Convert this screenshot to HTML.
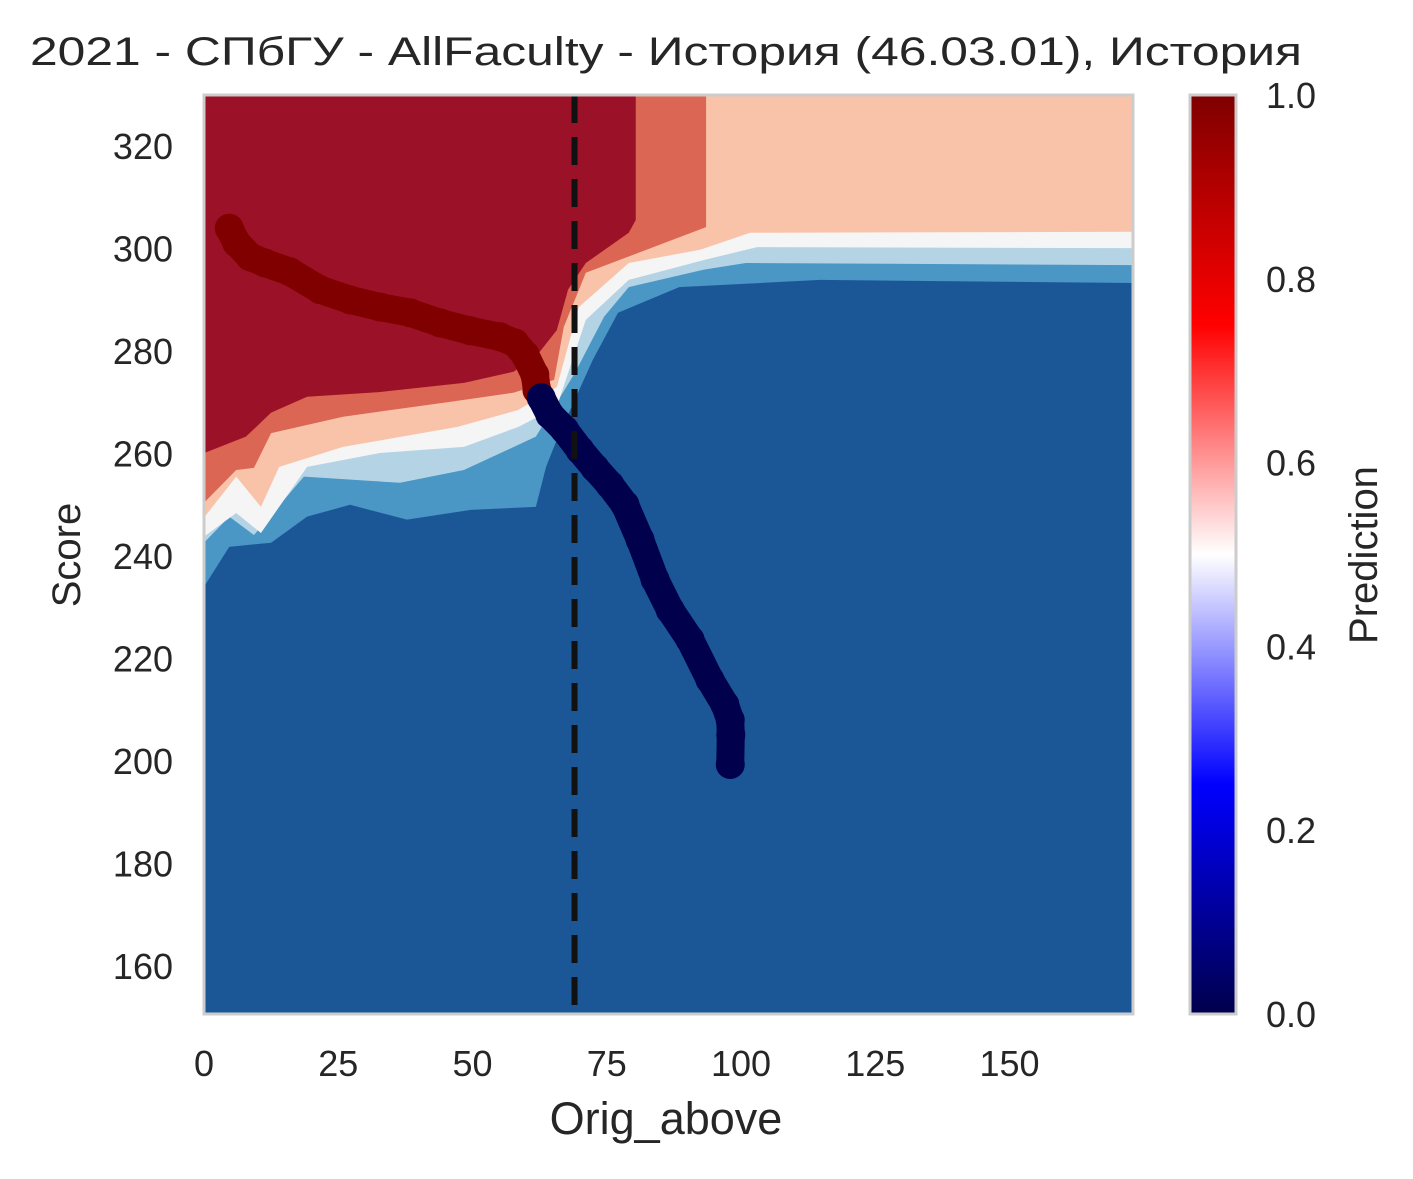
<!DOCTYPE html>
<html><head><meta charset="utf-8"><style>
body{margin:0;background:#fff;}
svg text{font-family:"Liberation Sans",sans-serif;fill:#262626;}
</style></head><body>
<svg id="c" width="1413" height="1174" xmlns="http://www.w3.org/2000/svg">
<defs><linearGradient id="cm" x1="0" y1="1" x2="0" y2="0">
<stop offset="0" stop-color="#00004c"/><stop offset="0.25" stop-color="#0000ff"/><stop offset="0.5" stop-color="#ffffff"/><stop offset="0.75" stop-color="#ff0000"/><stop offset="1" stop-color="#7f0000"/></linearGradient>
<clipPath id="pc"><rect x="204" y="95" width="929" height="919"/></clipPath></defs>
<text x="666" y="65" font-size="40" text-anchor="middle" textLength="1272" lengthAdjust="spacingAndGlyphs">2021 - СПбГУ - AllFaculty - История (46.03.01), История</text>
<g id="plot" clip-path="url(#pc)"></g>
<rect x="204" y="95" width="929" height="919" fill="none" stroke="#cccccc" stroke-width="3"/>
<g id="ax"></g>
<text x="666" y="1134" font-size="45" text-anchor="middle">Orig_above</text>
<text transform="translate(80,555) rotate(-90)" font-size="40" text-anchor="middle">Score</text>
<rect x="1190" y="95" width="46" height="919" fill="url(#cm)" stroke="#cccccc" stroke-width="3"/>
<text transform="translate(1377,555) rotate(-90)" font-size="40" text-anchor="middle">Prediction</text>
</svg>
<script>
const xTicks=[0,25,50,75,100,125,150];
const yTicks=[160,180,200,220,240,260,280,300,320];
const cbTicks=["0.0","0.2","0.4","0.6","0.8","1.0"];
const cutoff=69;
// contour band lower boundaries [x, y]
const bandF=[[0,234],[4.7,241.8],[12.5,242.6],[19.2,247.7],[27.2,250],[37.8,247.1],[49.7,249],[61.8,249.6],[63.7,257.4],[65.7,262.7],[72.4,278.3],[77.1,287.5],[88.5,292.5],[114.7,293.9],[173,293.3]];
const bandE=[[0,242.6],[4.7,247.7],[9.3,244.1],[18.6,255.5],[36.5,254.3],[48.4,256.8],[61.8,263.3],[69.1,275.8],[74.5,286.7],[79.1,292.5],[93.1,295.9],[100.9,297.2],[173,296.8]];
const bandD=[[0,243.8],[6,248.4],[10.6,244.5],[19.2,257.4],[32.6,260.1],[48.4,261.3],[58.5,265.2],[65.7,269.1],[71.1,286.1],[79.1,293.9],[93.1,297.8],[103,300.3],[173,300.1]];
const bandC=[[0,247.5],[6,255.5],[10.6,249.6],[14,257.4],[25.9,261.3],[47.1,265.2],[58.5,268.5],[65.7,273],[69.8,288.6],[79.1,297.2],[92.4,299.8],[101.7,303.1],[173,303.3]];
const bandB=[[0,250.4],[6,256.8],[9.3,257.2],[12.5,264],[25.9,267.2],[45.8,270.1],[57.7,271.9],[65.2,274.4],[67,284.7],[71.1,295.3],[85.7,301.1],[93.5,304.2]];
const bandA=[[0,260.1],[7.8,263.3],[12.5,268],[19.2,271.1],[32.6,272],[48.4,273.8],[57.7,276],[62.4,279.7],[65.7,284.1],[67.8,292],[71.1,297.2],[79.1,303.1],[80.4,305.6]];
const bands=[[bandF,"#4a96c5","band-mid-blue"],[bandE,"#b4d4e6","band-light-blue"],[bandD,"#f5f5f5","band-white"],[bandC,"#f9c3a9","band-salmon"],[bandB,"#db6653","band-orange"],[bandA,"#9b1127","band-dark-red"]];
const redX=[4.7,6.1,8.6,11.4,16,21.6,27.2,32.8,38.4,44,49.5,55.1,57.9,59.8,61.6,62];
const redY=[304,301.1,298.4,297.2,295.5,292,290,288.6,287.5,285.5,284,282.8,281.6,279.3,275.4,272.4];
const blueX=[62.8,64.4,67.2,70,72.8,75.6,78.4,81.2,84,86.8,90.5,94.2,97,98,98.1,98];
const blueY=[270.9,267.6,264.6,260.7,257.2,253.9,250,243.2,235.4,229.5,223.7,215.9,211,208,205.1,199.3];
const X0=204,X1=1133,Y0=1014,Y1=95,xmin=0,xmax=173,ymin=150.6,ymax=330;
const sx=v=>X0+(v-xmin)/(xmax-xmin)*(X1-X0);
const sy=v=>Y0-(v-ymin)/(ymax-ymin)*(Y0-Y1);
const NS="http://www.w3.org/2000/svg";
const plot=document.getElementById('plot'),ax=document.getElementById('ax');
function mk(t,p,a){const e=document.createElementNS(NS,t);for(const k in a)e.setAttribute(k,a[k]);p.appendChild(e);return e;}
const bg=mk('rect',plot,{x:X0,y:Y1,width:X1-X0,height:Y0-Y1,fill:'#1b5797'});


bands.forEach(b=>{const pts=b[0].map(p=>sx(p[0])+','+sy(p[1]));const last=b[0][b[0].length-1];
pts.push(sx(last[0])+','+sy(ymax),sx(0)+','+sy(ymax));
const e=mk('polygon',plot,{points:pts.join(' '),fill:b[1]});

});
function series(xs,ys,col,name){
const pl=mk('polyline',plot,{points:xs.map((v,i)=>sx(v)+','+sy(ys[i])).join(' '),fill:'none',stroke:col,'stroke-width':28,'stroke-linecap':'round','stroke-linejoin':'round'});


xs.forEach((v,i)=>{const c=mk('circle',plot,{cx:sx(v),cy:sy(ys[i]),r:14.5,fill:col});

});}
series(redX,redY,'#800000','admitted');
series(blueX,blueY,'#00004c','rejected');
const dl=mk('line',plot,{x1:sx(cutoff),x2:sx(cutoff),y1:Y1,y2:Y0,stroke:'#111','stroke-width':6,'stroke-dasharray':'28,14'});


xTicks.forEach(v=>{const t=mk('text',ax,{x:sx(v),y:1076,'font-size':36,'text-anchor':'middle'});t.textContent=v;

});
yTicks.forEach(v=>{const t=mk('text',ax,{x:173,y:sy(v)+13,'font-size':36,'text-anchor':'end'});t.textContent=v;

});
cbTicks.forEach(v=>{const t=mk('text',ax,{x:1266,y:Y0-(+v)*(Y0-Y1)+13,'font-size':36});t.textContent=v;

});
</script>
</body></html>
